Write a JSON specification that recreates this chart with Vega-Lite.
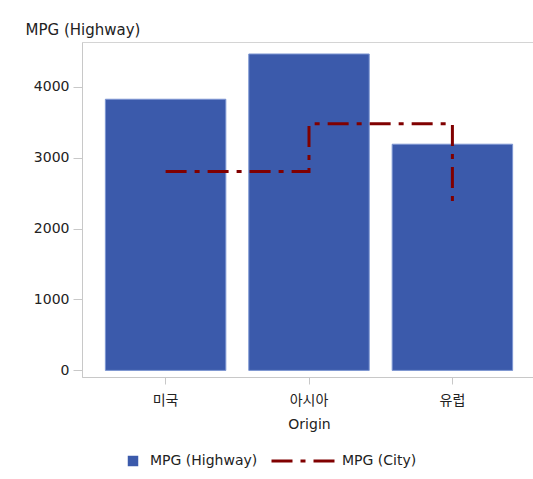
{
  "$schema": "https://vega.github.io/schema/vega-lite/v6.json",
  "width": 454,
  "height": 335,
  "autosize": "none",
  "padding": {"left": 82, "top": 42, "right": 0, "bottom": 102},
  "background": "white",
  "config": {
    "font": "DejaVu Sans, Noto Sans CJK KR",
    "view": {"stroke": "#d4d4d4", "strokeWidth": 1},
    "axis": {"grid": false, "domainColor": "#c8c8c8", "tickColor": "#c8c8c8", "labelColor": "#222", "titleColor": "#222", "labelFontSize": 14, "titleFontSize": 14, "titleFontWeight": "normal", "labelFont": "DejaVu Sans, Noto Sans CJK KR", "titleFont": "DejaVu Sans, Noto Sans CJK KR"},
    "legend": {"labelFont": "DejaVu Sans", "labelFontSize": 14, "labelColor": "#222", "padding": 0}
  },
  "data": {"values": [
    {"Origin": "미국", "highway": 3823, "city": 2803},
    {"Origin": "아시아", "highway": 4461, "city": 3479},
    {"Origin": "유럽", "highway": 3189, "city": 2366}
  ]},
  "encoding": {
    "x": {
      "field": "Origin", "type": "nominal", "sort": null,
      "scale": {"paddingInner": 0.16, "paddingOuter": 0.163},
      "axis": {"labelAngle": 0, "tickSize": 7, "labelPadding": 9, "title": "Origin", "titlePadding": 10, "labelFont": "Noto Sans CJK KR, DejaVu Sans"}
    }
  },
  "layer": [
    {
      "mark": {"type": "bar", "stroke": "#7d96d2", "strokeWidth": 1},
      "encoding": {
        "y": {
          "field": "highway", "type": "quantitative",
          "scale": {"domain": [-93, 4630], "nice": false, "zero": false},
          "axis": {"values": [0, 1000, 2000, 3000, 4000], "format": "d", "tickSize": 9, "labelPadding": 4, "title": "MPG (Highway)", "titleFontSize": 15, "titleAngle": 0, "titleAlign": "left", "titleBaseline": "alphabetic", "titleX": -57, "titleY": -8}
        },
        "y2": {"datum": 0},
        "fill": {
          "datum": "MPG (Highway)", "type": "nominal",
          "scale": {"domain": ["MPG (Highway)"], "range": ["#3b5aab"]},
          "legend": {
            "title": null, "orient": "none", "direction": "horizontal",
            "legendX": 44, "legendY": 412, "symbolType": "square", "symbolSize": 110, "symbolStrokeWidth": 0, "labelOffset": 10
          }
        }
      }
    },
    {
      "mark": {"type": "line", "interpolate": "step-after", "strokeWidth": 3, "color": "#800000"},
      "encoding": {
        "y": {"field": "city", "type": "quantitative"},
        "strokeDash": {
          "datum": "MPG (City)", "type": "nominal",
          "scale": {"domain": ["MPG (City)"], "range": [[21, 8, 5, 8]]},
          "legend": {
            "title": null, "orient": "none", "direction": "horizontal",
            "legendX": 209, "legendY": 407, "symbolType": "M -3 0 L 3 0", "symbolSize": 441, "symbolStrokeColor": "#800000", "symbolStrokeWidth": 3, "symbolFillColor": "transparent", "labelOffset": 27
          }
        }
      }
    }
  ]
}
